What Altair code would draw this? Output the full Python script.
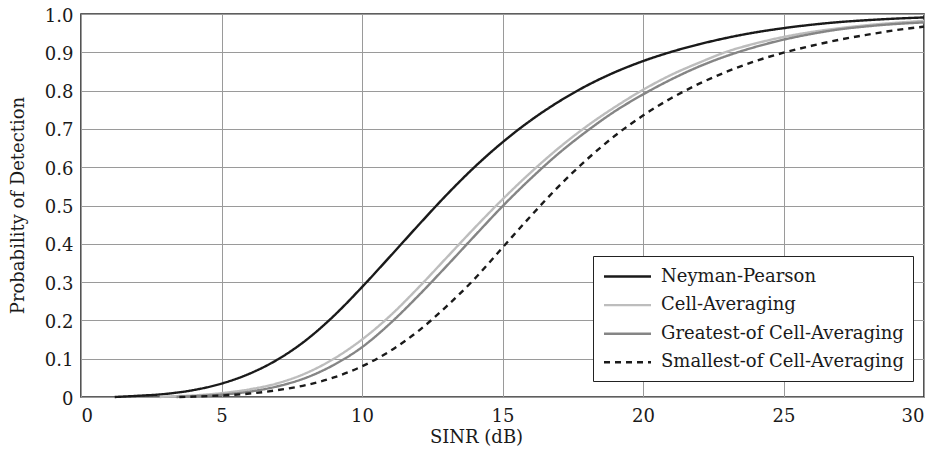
import altair as alt
import pandas as pd

series_names = ["Neyman-Pearson", "Cell-Averaging", "Greatest-of Cell-Averaging", "Smallest-of Cell-Averaging"]

x_np = [1.2, 2, 3, 4, 5, 6, 7, 8, 9, 10, 11, 12, 13, 14, 15, 16, 17, 18, 19, 20, 21, 22, 23, 24, 25, 26, 27, 28, 29, 30]
y_np = [0.0, 0.003, 0.008, 0.018, 0.035, 0.061, 0.098, 0.148, 0.212, 0.287, 0.367, 0.448, 0.527, 0.600, 0.665, 0.722,
        0.771, 0.813, 0.848, 0.877, 0.901, 0.921, 0.938, 0.952, 0.963, 0.972, 0.979, 0.984, 0.988, 0.991]

x_ca = [2.8, 3, 4, 5, 6, 7, 8, 9, 10, 11, 12, 13, 14, 15, 16, 17, 18, 19, 20, 21, 22, 23, 24, 25, 26, 27, 28, 29, 30]
y_ca = [0.0, 0.001, 0.004, 0.010, 0.020, 0.036, 0.062, 0.100, 0.150, 0.212, 0.285, 0.363, 0.441, 0.516, 0.586, 0.650,
        0.707, 0.757, 0.802, 0.841, 0.873, 0.902, 0.923, 0.940, 0.953, 0.963, 0.971, 0.977, 0.982]

x_go = [3.4, 4, 5, 6, 7, 8, 9, 10, 11, 12, 13, 14, 15, 16, 17, 18, 19, 20, 21, 22, 23, 24, 25, 26, 27, 28, 29, 30]
y_go = [0.0, 0.002, 0.006, 0.014, 0.028, 0.050, 0.084, 0.130, 0.192, 0.264, 0.341, 0.420, 0.498, 0.570, 0.636, 0.694,
        0.746, 0.790, 0.829, 0.863, 0.891, 0.914, 0.933, 0.948, 0.960, 0.968, 0.974, 0.978]

x_so = [3.5, 4, 5, 6, 7, 8, 9, 10, 11, 12, 13, 14, 15, 16, 17, 18, 19, 20, 21, 22, 23, 24, 25, 26, 27, 28, 29, 30]
y_so = [0.0, 0.001, 0.004, 0.009, 0.018, 0.031, 0.051, 0.080, 0.120, 0.172, 0.236, 0.308, 0.390, 0.472, 0.550, 0.620,
        0.682, 0.735, 0.780, 0.818, 0.850, 0.877, 0.899, 0.917, 0.933, 0.946, 0.958, 0.967]

x_ticks = [0, 5, 10, 15, 20, 25, 30]
y_ticks = [0, 0.1, 0.2, 0.3, 0.4, 0.5, 0.6, 0.7, 0.8, 0.9, 1.0]

colors = ["#1a1a1a", "#bdbdbd", "#858585", "#1a1a1a"]
dashes = [[1, 0], [1, 0], [1, 0], [6, 5]]

rows = []
for name, xs, ys in zip(series_names, [x_np, x_ca, x_go, x_so], [y_np, y_ca, y_go, y_so]):
    for i, (a, b) in enumerate(zip(xs, ys)):
        rows.append({"series": name, "sinr": a, "pd": b, "order": i})
df = pd.DataFrame(rows)

FONT = "DejaVu Serif"
FS = 18


def make_legend():
    return alt.Legend(
        title=None, orient="none", legendX=512, legendY=242,
        symbolType="M-2.35,0H2.35", symbolSize=400, symbolStrokeWidth=2.4,
        symbolOffset=14, labelOffset=22, labelLimit=400,
        labelFont=FONT, labelFontSize=FS, labelColor="#1a1a1a",
        rowPadding=7.6, padding=9,
        strokeColor="#222", fillColor="white",
    )


chart = alt.Chart(df).mark_line(strokeWidth=2.4, interpolate="monotone").encode(
    x=alt.X("sinr:Q", scale=alt.Scale(domain=[0, 30], nice=False),
            axis=alt.Axis(values=x_ticks, title="SINR (dB)", titleX=395, titleY=40,
                          titleBaseline="middle", labelPadding=10)),
    y=alt.Y("pd:Q", scale=alt.Scale(domain=[0, 1], nice=False),
            axis=alt.Axis(values=y_ticks, title="Probability of Detection",
                          labelExpr="datum.value == 0 ? '0' : format(datum.value, '.1f')",
                          titleX=-63, titleY=191, titleBaseline="middle", titleAlign="center",
                          labelPadding=8, labelOffset=2)),
    color=alt.Color("series:N", scale=alt.Scale(domain=series_names, range=colors), legend=make_legend()),
    strokeDash=alt.StrokeDash("series:N", scale=alt.Scale(domain=series_names, range=dashes), legend=make_legend()),
    order="order:Q",
).properties(
    width=843, height=383,
    autosize=alt.AutoSizeParams(type="none"),
    padding={"left": 73, "top": 6, "right": 12, "bottom": 50},
).configure_view(
    stroke="#2a2a2a", strokeWidth=1.6
).configure_axis(
    grid=True, gridColor="#9a9a9a", gridWidth=1, domain=False, ticks=False,
    labelFont=FONT, labelFontSize=FS, labelColor="#1a1a1a",
    titleFont=FONT, titleFontSize=FS, titleFontWeight="normal", titleColor="#1a1a1a",
)

chart.save("out.html", embed_options={"renderer": "svg", "actions": False})
